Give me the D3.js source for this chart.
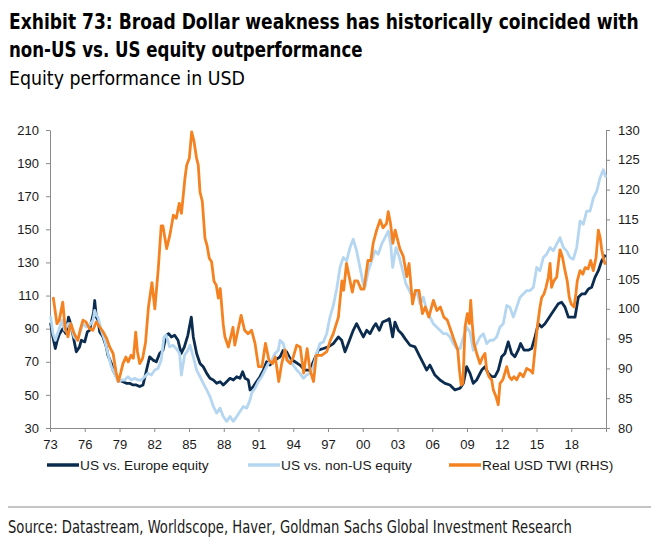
<!DOCTYPE html>
<html><head><meta charset="utf-8">
<script src="https://cdn.jsdelivr.net/npm/d3@7"></script>
<style>
html,body{margin:0;padding:0;background:#fff;}
svg{display:block;}
</style></head>
<body>
<svg id="c" width="659" height="544"></svg>
<script>
// ---- data (decimal year, value) ----
const titleLines = ["Exhibit 73: Broad Dollar weakness has historically coincided with", "non-US vs. US equity outperformance"];
const subtitle = "Equity performance in USD";
const sourceText = "Source: Datastream, Worldscope, Haver, Goldman Sachs Global Investment Research";
const seriesNames = ["US vs. Europe equity", "US vs. non-US equity", "Real USD TWI (RHS)"];
const xTickYears = [1973,1976,1979,1982,1985,1988,1991,1994,1997,2000,2003,2006,2009,2012,2015,2018,2021];
const xTickLabels = ["73","76","79","82","85","88","91","94","97","00","03","06","09","12","15","18",""];
const leftTicks = [30,50,70,90,110,130,150,170,190,210];
const rightTicks = [80,85,90,95,100,105,110,115,120,125,130];

const usEurope = [
[1973.06,93],[1973.25,85],[1973.46,78],[1973.63,83],[1973.83,87],[1974.1,90],[1974.38,87],[1974.6,97],[1974.83,92],
[1975.07,83],[1975.27,76],[1975.55,79],[1975.7,83],[1976.0,82],[1976.22,88],[1976.42,89],[1976.57,94],[1976.77,100],
[1976.86,107],[1977.0,97],[1977.15,95],[1977.29,88],[1977.58,85],[1977.86,79],[1978.0,74],[1978.3,69],[1978.44,65],
[1978.73,61],[1978.93,59],[1979.3,58],[1979.59,57],[1979.88,57],[1980.16,56],[1980.45,56],[1980.74,55],[1981.03,56],
[1981.3,64],[1981.6,73],[1981.89,71],[1982.18,70],[1982.46,75],[1982.75,77],[1983.04,86],[1983.24,87],[1983.47,85],
[1983.76,86],[1984.05,83],[1984.33,75],[1984.6,79],[1984.9,86],[1985.2,97],[1985.37,85],[1985.66,75],[1985.95,69],
[1986.23,67],[1986.53,63],[1986.81,60],[1987.1,59],[1987.39,57],[1987.68,58],[1987.96,56],[1988.25,58],[1988.54,60],
[1988.83,59],[1989.12,61],[1989.4,60],[1989.63,64],[1989.84,60],[1990.12,59],[1990.27,53],[1990.55,55],[1990.84,58],
[1991.13,61],[1991.42,65],[1991.7,70],[1991.99,68],[1992.43,71],[1992.86,73],[1993.14,77],[1993.43,76],[1993.72,72],
[1994.15,70],[1994.58,68],[1995.0,65],[1995.45,65],[1995.73,70],[1996.17,77],[1996.6,78],[1997.03,79],[1997.46,81],
[1997.9,85],[1998.18,83],[1998.47,76],[1998.75,81],[1999.18,89],[1999.47,93],[1999.76,89],[2000.05,85],[2000.34,89],
[2000.63,87],[2000.92,91],[2001.13,93],[2001.43,89],[2001.72,94],[2002.07,95],[2002.29,96],[2002.58,85],[2002.78,94],
[2003.07,89],[2003.36,87],[2003.65,84],[2004.08,80],[2004.51,79],[2004.94,73],[2005.23,69],[2005.52,65],[2005.8,68],
[2006.23,62],[2006.67,59],[2007.1,57],[2007.53,56],[2007.96,53],[2008.4,54],[2008.69,57],[2008.97,67],[2009.26,63],
[2009.54,57],[2009.83,59],[2010.27,65],[2010.55,67],[2010.84,63],[2011.13,61],[2011.41,61],[2011.7,65],[2011.99,73],
[2012.27,75],[2012.56,82],[2012.85,75],[2013.13,73],[2013.42,77],[2013.63,81],[2013.92,77],[2014.29,77],[2014.58,78],
[2014.87,85],[2015.16,93],[2015.44,91],[2015.73,93],[2016.02,96],[2016.3,99],[2016.59,102],[2016.88,105],[2017.17,106],
[2017.46,103],[2017.75,97],[2018.04,97],[2018.33,97],[2018.61,109],[2018.9,111],[2019.19,111],[2019.48,114],
[2019.76,115],[2020.05,121],[2020.34,125],[2020.63,131],[2020.9,134]
];

const usNonUs = [
[1973.06,97],[1973.26,87],[1973.46,83],[1973.75,89],[1974.04,95],[1974.27,89],[1974.55,93],[1974.78,93],[1975.07,85],
[1975.36,83],[1975.56,87],[1975.85,93],[1976.13,91],[1976.42,92],[1976.71,95],[1976.86,101],[1977.0,98],[1977.14,97],
[1977.43,89],[1977.72,83],[1978.0,75],[1978.29,67],[1978.58,63],[1978.87,58],[1979.16,59],[1979.44,59],[1979.73,61],
[1980.02,59],[1980.31,60],[1980.6,59],[1980.88,59],[1981.17,61],[1981.46,63],[1981.75,62],[1982.04,65],[1982.32,66],
[1982.6,71],[1982.84,85],[1983.04,86],[1983.33,79],[1983.61,80],[1983.9,78],[1984.19,75],[1984.34,62],[1984.62,74],
[1984.91,77],[1985.09,80],[1985.37,73],[1985.66,65],[1985.95,61],[1986.23,57],[1986.53,53],[1986.81,49],[1987.1,43],
[1987.39,39],[1987.68,42],[1987.96,37],[1988.25,34],[1988.54,37],[1988.83,34],[1989.12,37],[1989.4,40],[1989.69,43],
[1989.98,42],[1990.27,47],[1990.41,51],[1990.7,54],[1990.98,58],[1991.28,61],[1991.56,65],[1991.85,69],[1992.14,71],
[1992.43,75],[1992.71,77],[1992.86,83],[1993.14,81],[1993.43,73],[1993.72,70],[1994.0,68],[1994.3,65],[1994.58,63],
[1994.87,60],[1995.16,62],[1995.45,63],[1995.73,67],[1996.02,75],[1996.31,81],[1996.6,82],[1996.89,87],[1997.17,97],
[1997.46,104],[1997.75,114],[1998.04,127],[1998.32,133],[1998.61,131],[1998.9,139],[1999.18,144],[1999.47,137],
[1999.76,127],[2000.05,117],[2000.19,115],[2000.48,125],[2000.77,131],[2001.06,137],[2001.34,135],[2001.63,141],
[2001.92,145],[2002.21,149],[2002.41,141],[2002.58,127],[2002.87,139],[2003.16,133],[2003.45,125],[2003.73,117],
[2004.02,113],[2004.31,109],[2004.66,113],[2004.94,105],[2005.23,109],[2005.52,101],[2005.81,97],[2006.09,93],
[2006.38,91],[2006.67,89],[2006.96,87],[2007.25,87],[2007.53,85],[2007.82,81],[2008.11,78],[2008.4,78],[2008.69,85],
[2008.97,91],[2009.26,88],[2009.54,77],[2009.83,81],[2010.12,85],[2010.41,87],[2010.7,81],[2010.99,83],[2011.27,83],
[2011.56,85],[2011.85,91],[2012.13,93],[2012.43,104],[2012.7,103],[2013.0,97],[2013.29,103],[2013.58,109],
[2013.86,111],[2014.15,113],[2014.44,113],[2014.73,115],[2015.02,127],[2015.3,125],[2015.59,133],[2015.88,135],
[2016.17,139],[2016.45,137],[2016.74,141],[2017.03,145],[2017.32,139],[2017.6,137],[2017.89,133],[2018.18,132],
[2018.47,139],[2018.76,155],[2019.04,153],[2019.33,161],[2019.62,161],[2019.91,169],[2020.2,173],[2020.48,181],
[2020.77,186],[2020.95,182]
];

const realUsdTwi = [
[1973.29,101.8],[1973.6,97.5],[1973.8,98.1],[1974.1,101.1],[1974.3,96.9],[1974.55,95.3],[1974.8,97.5],[1975.1,95.8],
[1975.4,94.7],[1975.6,96.4],[1975.85,98.1],[1976.1,97.8],[1976.4,96.7],[1976.7,96.4],[1977.0,97.8],[1977.3,96.9],
[1977.6,96.1],[1977.9,95.0],[1978.15,93.6],[1978.45,92.5],[1978.7,89.4],[1978.9,87.8],[1979.1,89.2],[1979.3,90.8],
[1979.55,91.9],[1979.75,91.1],[1980.0,92.2],[1980.2,91.7],[1980.4,96.1],[1980.55,92.8],[1980.75,90.8],[1981.0,91.7],
[1981.25,94.4],[1981.5,100.3],[1981.8,104.4],[1982.05,100.0],[1982.35,106.8],[1982.6,113.9],[1982.75,113.9],
[1983.07,110.1],[1983.35,112.4],[1983.65,115.7],[1983.9,115.2],[1984.16,117.7],[1984.35,116.0],[1984.65,121.9],
[1984.8,124.1],[1985.03,125.3],[1985.23,129.7],[1985.43,128.1],[1985.65,125.3],[1985.8,124.1],[1985.95,119.6],
[1986.15,118.0],[1986.38,111.8],[1986.55,110.7],[1986.75,108.5],[1986.95,107.9],[1987.16,104.6],[1987.35,104.0],
[1987.53,101.8],[1987.7,103.4],[1987.96,97.3],[1988.1,95.3],[1988.4,93.6],[1988.8,96.9],[1988.95,93.9],[1989.5,98.9],
[1989.8,96.4],[1990.1,95.8],[1990.4,96.4],[1990.7,94.2],[1991.0,90.3],[1991.3,90.3],[1991.6,94.2],[1991.9,91.4],
[1992.2,90.8],[1992.45,91.9],[1992.75,87.8],[1993.0,90.8],[1993.3,93.1],[1993.45,91.4],[1993.75,90.8],[1994.0,91.9],
[1994.3,93.9],[1994.6,93.6],[1994.9,89.2],[1995.2,93.3],[1995.45,89.7],[1995.75,87.8],[1996.0,92.2],[1996.45,92.2],
[1996.9,92.8],[1997.2,94.7],[1997.45,95.8],[1997.9,98.6],[1998.2,104.7],[1998.35,103.1],[1998.6,107.6],[1998.9,104.7],
[1999.1,102.8],[1999.3,104.7],[1999.55,104.7],[1999.85,103.3],[2000.1,103.3],[2000.45,108.1],[2000.7,108.1],
[2000.9,111.0],[2001.2,113.2],[2001.5,114.9],[2001.75,113.6],[2002.05,114.3],[2002.2,116.3],[2002.4,114.3],
[2002.6,111.0],[2002.8,113.2],[2003.2,110.1],[2003.5,108.8],[2003.8,105.4],[2004.0,107.6],[2004.3,100.8],
[2004.55,103.1],[2004.85,103.1],[2005.15,99.2],[2005.4,100.3],[2005.7,98.6],[2006.1,101.4],[2006.4,99.7],
[2006.7,100.3],[2007.0,98.6],[2007.3,98.1],[2007.6,96.4],[2007.9,94.7],[2008.2,93.1],[2008.35,89.7],[2008.5,87.2],
[2008.65,87.5],[2008.83,96.9],[2009.03,99.2],[2009.2,97.5],[2009.32,101.4],[2009.45,97.5],[2009.6,94.2],[2009.84,92.5],
[2010.12,90.8],[2010.35,91.9],[2010.55,92.5],[2010.7,89.7],[2010.9,88.6],[2011.13,88.1],[2011.27,86.4],[2011.5,85.3],
[2011.7,83.9],[2011.85,87.5],[2012.1,88.1],[2012.43,90.3],[2012.65,88.6],[2012.86,88.1],[2013.05,88.6],[2013.3,88.1],
[2013.58,89.2],[2013.86,88.6],[2014.15,90.0],[2014.44,89.7],[2014.67,89.2],[2014.87,93.1],[2015.07,96.9],[2015.3,100.3],
[2015.45,101.9],[2015.65,102.5],[2015.82,103.6],[2016.02,105.3],[2016.17,107.6],[2016.3,103.6],[2016.5,104.7],
[2016.74,105.3],[2017.03,109.9],[2017.25,108.6],[2017.46,106.4],[2017.65,104.7],[2017.83,101.9],[2018.0,100.8],
[2018.24,100.3],[2018.4,102.5],[2018.52,104.7],[2018.76,106.4],[2019.0,105.8],[2019.19,106.9],[2019.45,106.7],
[2019.68,108.1],[2019.9,106.4],[2020.14,108.6],[2020.34,113.2],[2020.5,111.9],[2020.63,109.9],[2020.77,108.6],
[2020.9,107.6]
];

const colors = ["#0b2c4f", "#b5d6f1", "#f58220"];

// ---- drawing ----
const svg = d3.select("#c");
svg.append("rect").attr("width",659).attr("height",544).attr("fill","#fff");

const x = d3.scaleLinear().domain([1973, 2021]).range([50, 606]);
const yL = d3.scaleLinear().domain([30, 210]).range([428, 130]);
const yR = d3.scaleLinear().domain([80, 130]).range([428, 130]);

const narrow = "'Liberation Sans Narrow','DejaVu Sans Condensed','Arial Narrow',sans-serif";
const sans = "'Liberation Sans',Arial,Helvetica,sans-serif";

// place a text so that its drawn width equals target (horizontal scale, no clipping)
function fitText(str, x0, y0, target, size, weight, family, fill){
  const t = svg.append("text").attr("x",0).attr("y",0)
    .attr("font-family",family).attr("font-weight",weight).attr("font-size",size)
    .attr("fill",fill).text(str);
  const len = t.node().getComputedTextLength();
  const sx = target/len;
  t.attr("transform",`translate(${x0},${y0}) scale(${sx},1)`);
  return t;
}

// titles
fitText(titleLines[0], 9, 29.3, 630, 21, "bold", narrow, "#000");
fitText(titleLines[1], 9, 57.3, 354, 21, "bold", narrow, "#000");
fitText(subtitle, 9, 85.3, 236, 20, "normal", narrow, "#000");

// axes
function styleAxis(g){
  g.selectAll("path,line").attr("stroke","#8a8a8a").attr("stroke-width",1);
  g.selectAll("text").attr("font-family",sans).attr("font-size",13).attr("fill","#1a1a1a");
}
const gx = svg.append("g").attr("transform","translate(0,428)")
  .call(d3.axisBottom(x).tickValues(xTickYears).tickFormat((d,i)=>xTickLabels[i]).tickSize(4).tickSizeOuter(0).tickPadding(8));
styleAxis(gx);
const gl = svg.append("g").attr("transform","translate(50,0)")
  .call(d3.axisLeft(yL).tickValues(leftTicks).tickFormat(d3.format("d")).tickSize(4).tickSizeOuter(0).tickPadding(7));
styleAxis(gl);
const gr = svg.append("g").attr("transform","translate(606,0)")
  .call(d3.axisRight(yR).tickValues(rightTicks).tickFormat(d3.format("d")).tickSize(4).tickSizeOuter(0).tickPadding(8));
styleAxis(gr);

// lines
const lineL = d3.line().x(d=>x(d[0])).y(d=>yL(d[1]));
const lineR = d3.line().x(d=>x(d[0])).y(d=>yR(d[1]));
const plot = svg.append("g").attr("fill","none").attr("stroke-width",2.8).attr("stroke-linejoin","round").attr("stroke-linecap","round");
plot.append("path").datum(usEurope).attr("d",lineL).attr("stroke",colors[0]);
plot.append("path").datum(usNonUs).attr("d",lineL).attr("stroke",colors[1]);
plot.append("path").datum(realUsdTwi).attr("d",lineR).attr("stroke",colors[2]);

// legend
const legX = [47, 248, 449];
seriesNames.forEach((n,i)=>{
  svg.append("line").attr("x1",legX[i]).attr("x2",legX[i]+32).attr("y1",465).attr("y2",465)
    .attr("stroke",colors[i]).attr("stroke-width",3.5);
  svg.append("text").attr("x",legX[i]+33).attr("y",469.8)
    .attr("font-family",sans).attr("font-size",13.7).attr("fill","#1a1a1a").text(n);
});

// separator + source
svg.append("line").attr("x1",8).attr("x2",651).attr("y1",507).attr("y2",507).attr("stroke","#8a8a8a").attr("stroke-width",1);
fitText(sourceText, 8, 533, 564, 17, "normal", narrow, "#1a1a1a");
</script>
</body></html>
